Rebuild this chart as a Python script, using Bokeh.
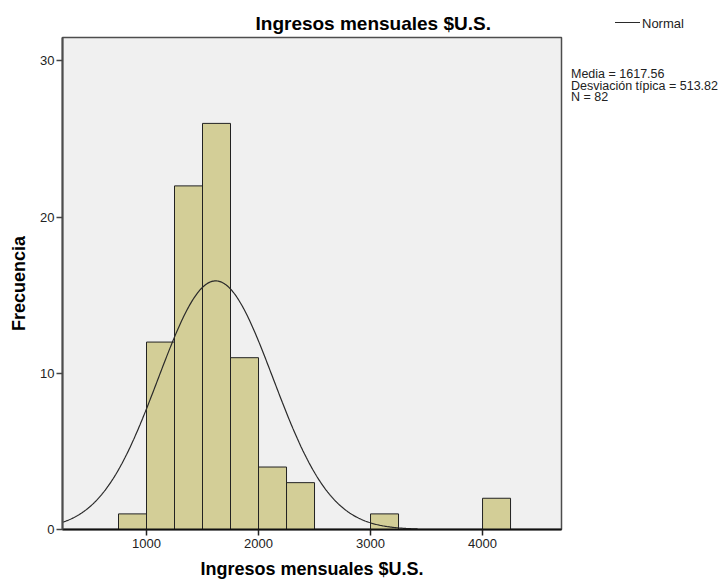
import numpy as np
from bokeh.plotting import figure
from bokeh.layouts import row
from bokeh.models import Range1d, FixedTicker, Div
from bokeh.embed import file_html
from bokeh.resources import INLINE

# ---- data ----
bin_starts = [750, 1000, 1250, 1500, 1750, 2000, 2250, 3000, 4000]
bin_width = 250
counts = [1, 12, 22, 26, 11, 4, 3, 1, 2]
mean_val = 1617.56
sd_val = 513.82
n_val = 82
x_ticks = [1000, 2000, 3000, 4000]
y_ticks = [0, 10, 20, 30]
curve_start, curve_end = 250, 3420

FONT = "Liberation Sans"

p = figure(width=566, height=582, output_backend="svg", toolbar_location=None,
           x_range=Range1d(250, 4705), y_range=Range1d(0, 31.5),
           min_border_left=62, min_border_right=5, min_border_top=37,
           min_border_bottom=53)

p.border_fill_color = "white"
p.background_fill_color = "#f0f0f0"
p.outline_line_color = "#4d4d4d"
p.outline_line_width = 1.5
p.grid.visible = False

p.title.text = "Ingresos mensuales $U.S."
p.title.align = "left"
p.title.offset = 193
p.title.standoff = 7
p.title.text_font = FONT
p.title.text_font_size = "19px"
p.title.text_font_style = "bold"
p.title.text_color = "black"

p.quad(left=bin_starts, right=[b + bin_width for b in bin_starts],
       bottom=0, top=counts, fill_color="#d3ce97", line_color="#222222", line_width=1)

xs = np.linspace(curve_start, curve_end, 400)
ys = n_val * bin_width * np.exp(-0.5 * ((xs - mean_val) / sd_val) ** 2) / (sd_val * np.sqrt(2 * np.pi))
curve = p.line(xs, ys, line_color="#2a2a2a", line_width=1.2)

for ax in (p.xaxis[0], p.yaxis[0]):
    ax.major_label_text_font = FONT
    ax.major_label_text_font_size = "13px"
    ax.major_label_text_color = "#222222"
    ax.axis_label_text_font = FONT
    ax.axis_label_text_font_style = "bold"
    ax.axis_label_text_font_size = "18px"
    ax.axis_label_text_color = "black"
    ax.minor_tick_line_color = None
    ax.major_tick_in = 0
    ax.major_tick_out = 6

p.xaxis.ticker = FixedTicker(ticks=x_ticks)
p.yaxis.ticker = FixedTicker(ticks=y_ticks)
p.xaxis.axis_label = "Ingresos mensuales $U.S."
p.yaxis.axis_label = "Frecuencia"
p.xaxis.axis_line_color = "#111111"
p.xaxis.axis_line_width = 2
p.xaxis.major_tick_line_color = "#222222"
p.xaxis.major_tick_line_width = 1.5
p.yaxis.axis_line_color = "#4d4d4d"
p.yaxis.axis_line_width = 2
p.yaxis.major_tick_line_color = "#444444"
p.yaxis.major_tick_line_width = 1.5
p.xaxis.major_label_standoff = 3
p.yaxis.major_label_standoff = 2
p.xaxis.axis_label_standoff = 8
p.yaxis.axis_label_standoff = 8

# ---- side area: legend key and statistics (HTML text) ----
stats = ["Media = %.2f" % mean_val, "Desviación típica = %.2f" % sd_val, "N = %d" % n_val]
side_html = (
    '<div style="position:relative;width:154px;height:582px;'
    'font-family:\'Liberation Sans\',Arial,sans-serif;color:#222222;white-space:nowrap;">'
    '<div style="position:absolute;left:44px;top:17px;width:25px;height:0;'
    'border-top:1.2px solid #2a2a2a;"></div>'
    '<div style="position:absolute;left:71px;top:10.5px;font-size:13px;line-height:15px;">Normal</div>'
    '<div style="position:absolute;left:0px;top:64.2px;font-size:12.5px;line-height:11.5px;">'
    + "<br>".join(stats) +
    '</div></div>'
)
side = Div(text=side_html, width=159, height=582)

layout = row(p, side)
open("out.html", "w").write(file_html(layout, INLINE))
